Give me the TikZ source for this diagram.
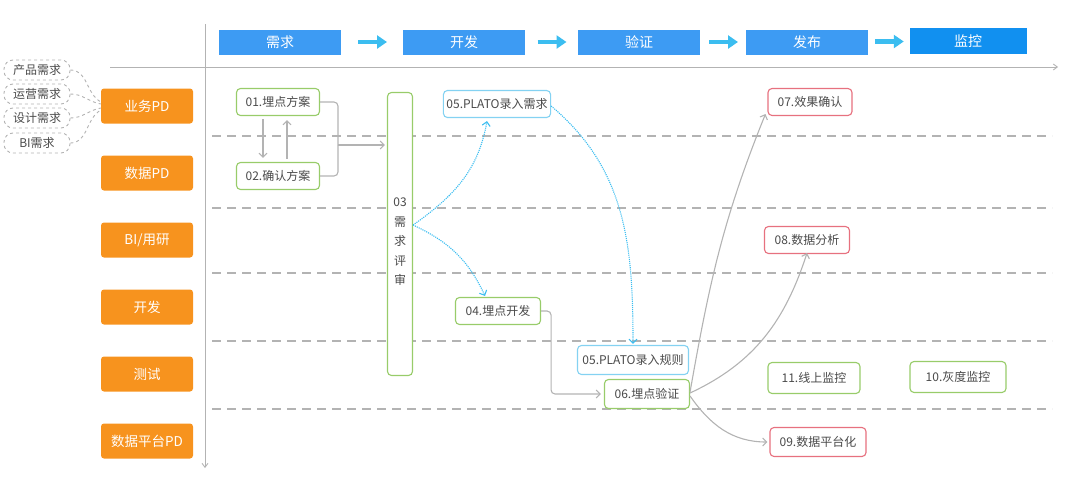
\documentclass[tikz,border=0pt]{standalone}
\usepackage{fontspec}
\setmainfont{Noto Sans CJK SC}
\usepackage{tikz}
\usetikzlibrary{positioning, arrows.meta, calc}

\definecolor{stageblue}{HTML}{3D9BF3}
\definecolor{monblue}{HTML}{1190F0}
\definecolor{flowcyan}{HTML}{3BBDF0}
\definecolor{laneorange}{HTML}{F7931E}
\definecolor{boxgreen}{HTML}{98CC6A}
\definecolor{boxcyan}{HTML}{84D2F2}
\definecolor{boxred}{HTML}{E7717F}
\definecolor{linegray}{HTML}{B3B3B3}
\definecolor{textgray}{HTML}{4A4A4A}

\begin{document}
\begin{tikzpicture}[x=1pt,y=-1pt,node distance=67pt,on grid,
    stage/.style={fill=stageblue,text=white,minimum width=122,minimum height=25,font=\fontsize{14}{16}\selectfont},
    stagearrow/.style={flowcyan,line width=4.5pt,-{Triangle[width=13pt,length=10pt]}},
    lane/.style={fill=laneorange,text=white,rounded corners=3,minimum width=92,minimum height=35,font=\fontsize{13.5}{15}\selectfont},
    tag/.style={draw=linegray,dashed,line width=0.9pt,rounded corners=9,minimum width=66,minimum height=20,inner sep=1,text=textgray,font=\fontsize{12}{13}\selectfont},
    box/.style={draw,rounded corners=4,line width=1.1pt,fill=white,text=textgray,minimum height=27,inner xsep=3,font=\fontsize{12}{14}\selectfont},
    greenbox/.style={box,draw=boxgreen},
    cyanbox/.style={box,draw=boxcyan},
    redbox/.style={box,draw=boxred},
    flow/.style={linegray,line width=1.1pt,-{Straight Barb[length=4pt,width=8pt]}},
    dotflow/.style={flowcyan,densely dotted,line width=1.1pt,-{Straight Barb[length=4pt,width=8pt]}},
    sep/.style={linegray,line width=1.1pt,dash pattern=on 9pt off 6pt},
    axis/.style={linegray,line width=0.9pt,-{Straight Barb[length=4pt,width=6pt]}}]

\useasboundingbox (0,0) rectangle (1080,493);

\draw[axis] (110,67) -- (1058,67);
\draw[axis] (205,24) -- (205,468);
\foreach \y in {136,208,273,341,409}
    \draw[sep] (212,\y) -- (1052,\y);

\node[stage] (s1) at (280,42) {需求};
\node[stage] (s2) at (464,42) {开发};
\node[stage] (s3) at (639,42) {验证};
\node[stage] (s4) at (807,42) {发布};
\node[stage,fill=monblue,minimum width=117,minimum height=26] (s5) at (968,41) {监控};
\foreach \a/\b in {s1/s2,s2/s3,s3/s4,s4/s5}
    \draw[stagearrow] ($(\a.east)!.5!(\b.west)+(-14,0)$) -- ($(\a.east)!.5!(\b.west)+(15,0)$);

\node[lane] (biz) at (147,106) {业务PD};
\node[lane] (data) [below=of biz] {数据PD};
\node[lane] (bi) [below=of data] {BI/用研};
\node[lane] (dev) [below=of bi] {开发};
\node[lane] (qa) [below=of dev] {测试};
\node[lane] (plat) [below=of qa] {数据平台PD};

\node[tag] (t1) at (37,70) {产品需求};
\node[tag] (t2) at (37,94) {运营需求};
\node[tag] (t3) at (37,118) {设计需求};
\node[tag] (t4) at (37,143) {BI需求};
\path[linegray,dashed,line width=0.9pt]
    (t1.east) edge[out=0,in=150] ([yshift=4]biz.west)
    (t2.east) edge[out=0,in=170] ([yshift=2]biz.west)
    (t3.east) edge[out=0,in=190] ([yshift=-2]biz.west)
    (t4.east) edge[out=0,in=210] ([yshift=-4]biz.west);

\node[greenbox,minimum width=83] (n01) at (278,102) {01.埋点方案};
\node[greenbox,minimum width=83] (n02) at (278,176) {02.确认方案};
\node[greenbox,minimum width=25,minimum height=283,inner xsep=2,align=center,
    font=\fontsize{12}{19.5}\selectfont] (n03) at (400,234) {\rule{0pt}{24pt}03\\需\\求\\评\\审};
\node[cyanbox,minimum width=106] (n05a) at (497,104) {05.PLATO录入需求};
\node[greenbox,minimum width=85] (n04) at (498,311) {04.埋点开发};
\node[cyanbox,minimum width=111,minimum height=29] (n05b) at (633,360) {05.PLATO录入规则};
\node[greenbox,minimum width=85,minimum height=29] (n06) at (647,394) {06.埋点验证};
\node[redbox,minimum width=84] (n07) at (810,102) {07.效果确认};
\node[redbox,minimum width=85] (n08) at (807,240) {08.数据分析};
\node[greenbox,minimum width=92,minimum height=31] (n11) at (814,378) {11.线上监控};
\node[greenbox,minimum width=96,minimum height=31] (n10) at (958,377) {10.灰度监控};
\node[redbox,minimum width=96,minimum height=29] (n09) at (818,442) {09.数据平台化};

\coordinate (merge) at (338,145);
\draw[flow,-,rounded corners=4] (n01.east) -| (merge);
\draw[flow,-,rounded corners=4] (n02.east) -| (merge);
\draw[flow,shorten >=2pt] (merge) -- (merge -| n03.west);
\draw[flow,shorten <=3pt,shorten >=4pt] ([xshift=-15]n01.south) -- ([xshift=-15]n02.north);
\draw[flow,shorten <=3pt,shorten >=4pt] ([xshift=9]n02.north) -- ([xshift=9]n01.south);

\path[dotflow]
    ([yshift=9]n03.east) edge[out=35,in=-100] ([xshift=-10,yshift=-3]n05a.south)
    ([yshift=9]n03.east) edge[out=-25,in=115] ([xshift=-13,yshift=1]n04.north)
    ([yshift=-2]n05a.east) edge[out=-40,in=90] ([yshift=1]n05b.north);

\draw[flow,rounded corners=4] (n04.east) -- ++(10,0) |- ([xshift=-3]n06.west);

\path[flow]
    ([yshift=2]n06.east) edge[out=80,in=-112] ([xshift=-2,yshift=2]n07.south west)
    ([yshift=1]n06.east) edge[out=25,in=-108] ([yshift=1]n08.south)
    ([yshift=-2]n06.east) edge[out=-55,in=180] ([xshift=-2]n09.west);

\end{tikzpicture}
\end{document}
